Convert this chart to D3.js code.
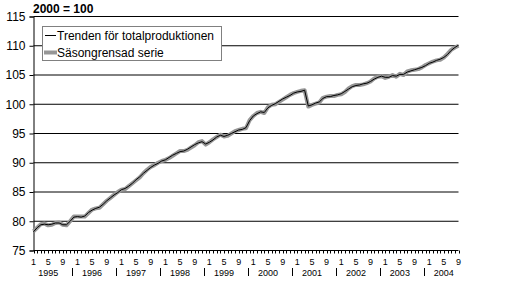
<!DOCTYPE html>
<html>
<head>
<meta charset="utf-8">
<script src="https://d3js.org/d3.v7.min.js"></script>
<style>
  body { margin: 0; background: #fff; }
  text { font-family: "Liberation Sans", Arial, sans-serif; }
</style>
</head>
<body>
<script>
var years = [1995, 1996, 1997, 1998, 1999, 2000, 2001, 2002, 2003, 2004];
var monthLabels = [1, 5, 9];
var yTicks = [75, 80, 85, 90, 95, 100, 105, 110, 115];

// Säsongrensad serie, Jan 1995 - Sep 2004
var seasonal = [
  78.3, 78.9, 79.5, 79.6, 79.3, 79.4, 79.7, 79.8, 79.4, 79.3, 80.0, 80.8,
  80.8, 80.8, 80.8, 81.4, 82.0, 82.2, 82.3, 82.9, 83.5, 84.0, 84.5, 85.0,
  85.4, 85.5, 86.0, 86.5, 87.0, 87.5, 88.2, 88.8, 89.3, 89.6, 90.0, 90.3,
  90.5, 90.8, 91.2, 91.6, 92.0, 92.0, 92.2, 92.6, 93.0, 93.5, 93.7, 93.1,
  93.5, 94.0, 94.4, 94.8, 94.5, 94.6, 95.0, 95.4, 95.6, 95.8, 95.9, 97.3,
  98.0, 98.5, 98.7, 98.5, 99.5, 99.9, 100.0, 100.4, 100.8, 101.2, 101.6, 101.9,
  102.1, 102.3, 102.4, 99.6, 99.9, 100.1, 100.3, 101.1, 101.3, 101.4, 101.4, 101.6,
  101.7, 102.1, 102.7, 103.1, 103.3, 103.3, 103.4, 103.6, 103.9, 104.4, 104.7, 104.8,
  104.5, 104.7, 105.0, 104.7, 105.2, 105.0, 105.6, 105.8, 105.9, 106.0, 106.3, 106.7,
  107.0, 107.3, 107.5, 107.6, 108.0, 108.6, 109.3, 109.7, 110.0
];

// Trenden för totalproduktionen
var trend = [
  78.2, 78.9, 79.4, 79.5, 79.4, 79.5, 79.7, 79.7, 79.4, 79.4, 80.0, 80.7,
  80.8, 80.7, 80.9, 81.5, 81.9, 82.2, 82.4, 82.9, 83.5, 84.0, 84.5, 84.9,
  85.4, 85.6, 86.0, 86.5, 87.1, 87.6, 88.2, 88.7, 89.2, 89.6, 89.9, 90.3,
  90.5, 90.9, 91.3, 91.6, 91.9, 92.0, 92.3, 92.7, 93.1, 93.4, 93.6, 93.2,
  93.5, 93.9, 94.4, 94.7, 94.5, 94.7, 95.0, 95.3, 95.6, 95.7, 96.0, 97.2,
  98.0, 98.4, 98.7, 98.6, 99.4, 99.8, 100.1, 100.5, 100.9, 101.2, 101.5, 101.9,
  102.1, 102.2, 102.4, 99.7, 99.9, 100.2, 100.4, 101.0, 101.3, 101.3, 101.5, 101.6,
  101.8, 102.2, 102.6, 103.0, 103.2, 103.3, 103.5, 103.6, 103.9, 104.3, 104.6, 104.8,
  104.6, 104.6, 104.9, 104.8, 105.1, 105.1, 105.5, 105.7, 105.9, 106.1, 106.3, 106.6,
  107.0, 107.2, 107.5, 107.7, 108.0, 108.5, 109.2, 109.7, 110.1
];

var width = 524, height = 289;
var n = seasonal.length;

var svg = d3.select("body").append("svg").attr("width", width).attr("height", height);

var x = d3.scaleLinear().domain([0, n - 1]).range([33.5, 458.5]);
var y = d3.scaleLinear().domain([75, 115]).range([250.5, 16.5]);

// gridlines
svg.append("g").selectAll("line").data(yTicks.filter(function(d){ return d > 75; }))
  .enter().append("line")
  .attr("x1", x(0)).attr("x2", x(n - 1))
  .attr("y1", function(d){ return y(d); }).attr("y2", function(d){ return y(d); })
  .attr("stroke", "#000").attr("stroke-width", 1);

// y axis
var yAxis = d3.axisLeft(y).tickValues(yTicks).tickSize(4).tickPadding(4);
var gy = svg.append("g").attr("transform", "translate(" + x(0) + ",0)").call(yAxis);
gy.select(".domain").attr("stroke", "#000");
gy.selectAll("line").attr("stroke", "#000");
gy.selectAll("text").attr("font-size", "12px").attr("fill", "#000");

// x axis: monthly ticks
var months = d3.range(n);
var gx = svg.append("g");
gx.append("line").attr("x1", x(0)).attr("x2", x(n - 1))
  .attr("y1", y(75)).attr("y2", y(75)).attr("stroke", "#000");
gx.selectAll("line.tick").data(months).enter().append("line")
  .attr("class", "tick")
  .attr("x1", function(d){ return Math.round(x(d)) + 0.5; })
  .attr("x2", function(d){ return Math.round(x(d)) + 0.5; })
  .attr("y1", y(75)).attr("y2", y(75) + 3)
  .attr("stroke", "#000");

gx.selectAll("text.month").data(months.filter(function(d){ return monthLabels.indexOf(d % 12 + 1) >= 0; }))
  .enter().append("text")
  .attr("class", "month")
  .attr("x", function(d){ return x(d); })
  .attr("y", 265)
  .attr("text-anchor", "middle")
  .attr("font-size", "9px")
  .text(function(d){ return d % 12 + 1; });

gx.selectAll("text.year").data(years).enter().append("text")
  .attr("class", "year")
  .attr("x", function(d, i){ return x(i * 12 + 4); })
  .attr("y", 276)
  .attr("text-anchor", "middle")
  .attr("font-size", "9px")
  .text(function(d){ return d; });

gx.selectAll("line.sep").data(years.slice(0, -1)).enter().append("line")
  .attr("class", "sep")
  .attr("x1", function(d, i){ return Math.round(x(i * 12 + 10.5)) + 0.5; })
  .attr("x2", function(d, i){ return Math.round(x(i * 12 + 10.5)) + 0.5; })
  .attr("y1", 268).attr("y2", 276)
  .attr("stroke", "#000");

// series
var line = d3.line()
  .x(function(d, i){ return x(i); })
  .y(function(d){ return y(d); });

svg.append("path").datum(seasonal)
  .attr("fill", "none").attr("stroke", "#969696").attr("stroke-width", 4)
  .attr("stroke-linejoin", "round")
  .attr("d", line);

svg.append("path").datum(trend)
  .attr("fill", "none").attr("stroke", "#000").attr("stroke-width", 1)
  .attr("d", line);

// title
svg.append("text").attr("x", 33).attr("y", 13)
  .attr("font-size", "12px").attr("font-weight", "bold")
  .text("2000 = 100");

// legend
var legend = svg.append("g");
legend.append("rect").attr("x", 42.5).attr("y", 26.5).attr("width", 179).attr("height", 34)
  .attr("fill", "#fff").attr("stroke", "#808080");
legend.append("line").attr("x1", 45).attr("x2", 56).attr("y1", 35.5).attr("y2", 35.5)
  .attr("stroke", "#000");
legend.append("text").attr("x", 57).attr("y", 39.5).attr("font-size", "12px")
  .text("Trenden för totalproduktionen");
legend.append("line").attr("x1", 44).attr("x2", 57).attr("y1", 52.5).attr("y2", 52.5)
  .attr("stroke", "#969696").attr("stroke-width", 4);
legend.append("text").attr("x", 57).attr("y", 56.5).attr("font-size", "12px")
  .text("Säsongrensad serie");
</script>
</body>
</html>
